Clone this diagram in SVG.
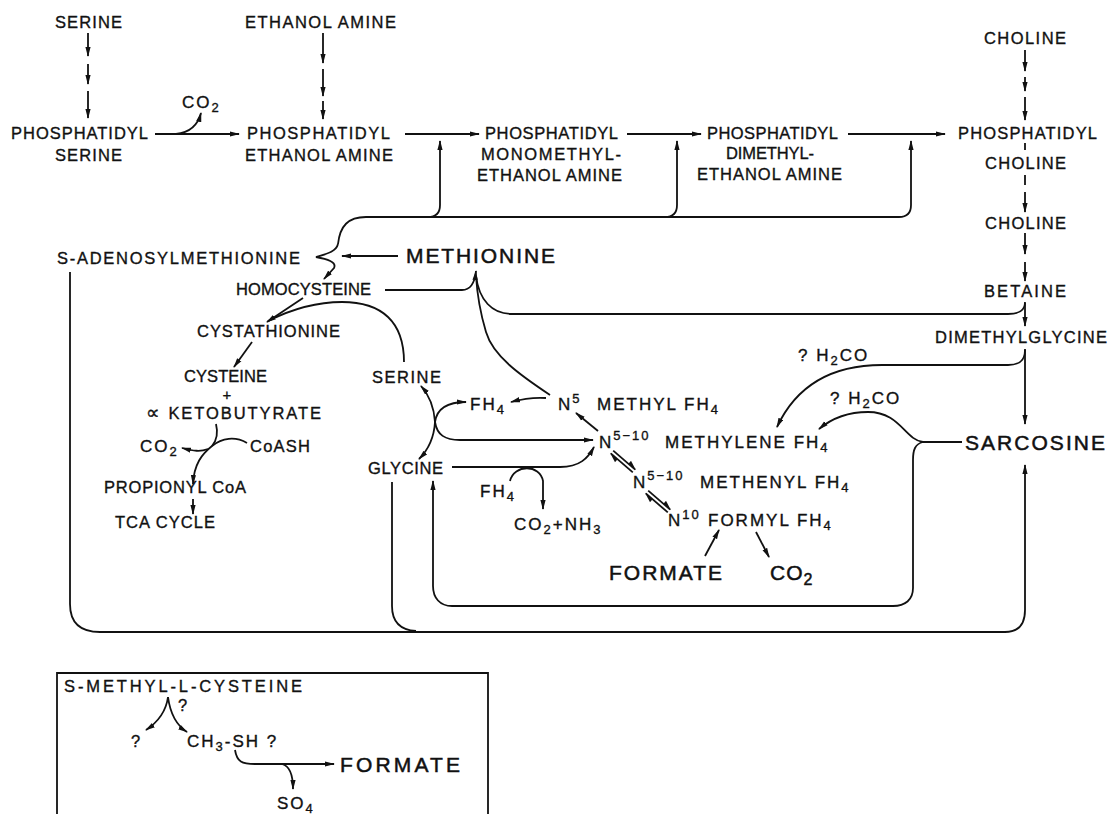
<svg xmlns="http://www.w3.org/2000/svg" width="1108" height="814" viewBox="0 0 1108 814">
<defs>
<style>
text{font-family:"Liberation Sans",Arial,sans-serif;font-size:16.5px;fill:#111;stroke:#111;stroke-width:0.35;}
.b{font-size:21px;stroke-width:0.5;}
.sm{font-size:13px;}
.sp{font-size:17px;letter-spacing:2px;}
.ln{fill:none;stroke:#111;stroke-width:1.8;}
.ar{marker-end:url(#ah);}
</style>
<marker id="ah" viewBox="0 0 10 6" refX="9" refY="3" markerWidth="10" markerHeight="6" markerUnits="userSpaceOnUse" orient="auto"><path d="M0,0.4 L10,3 L0,5.6 z" fill="#111"/></marker>
<marker id="hp" viewBox="0 0 10 6" refX="9" refY="5" markerWidth="10" markerHeight="6" markerUnits="userSpaceOnUse" orient="auto"><path d="M0,1 L10,5 L0,5 z" fill="#111"/></marker>
</defs>
<rect width="1108" height="814" fill="#fff"/>

<g id="connectors">
<path class="ln ar" d="M88,33 L88,56"/><path class="ln ar" d="M88,64 L88,84"/><path class="ln ar" d="M88,91 L88,118"/>
<path class="ln ar" d="M323,33 L323,63"/><path class="ln ar" d="M323,69 L323,96"/><path class="ln ar" d="M323,101 L323,119"/>
<path class="ln ar" d="M1025,50 L1025,71"/><path class="ln ar" d="M1025,77 L1025,91"/><path class="ln ar" d="M1025,97 L1025,120"/>
<path class="ln" d="M1025,143 L1025,150"/>
<path class="ln" d="M1025,175 L1025,185"/><path class="ln ar" d="M1025,192 L1025,212"/>
<path class="ln ar" d="M1025,233 L1025,254"/><path class="ln ar" d="M1025,262 L1025,281"/>
<path class="ln ar" d="M155,134 L239,134"/>
<path class="ln ar" d="M176,134 Q196,132 201,113"/>
<path class="ln ar" d="M405,134 L479,134"/>
<path class="ln ar" d="M627,134 L701,134"/>
<path class="ln ar" d="M848,134 L945,134"/>
<path class="ln ar" d="M338,244 C340,226 348,217 366,217 L428,217 Q440,217 440,205 L440,141"/>
<path class="ln ar" d="M428,217 L665,217 Q677,217 677,205 L677,141"/>
<path class="ln ar" d="M665,217 L899,217 Q911,217 911,205 L911,141"/>
<path class="ln ar" d="M338,244 C336,252 326,254 316,257 C327,259 337,262 334,268 L324,279"/>
<path class="ln ar" d="M398,256 L342,256"/>
<path class="ln ar" d="M385,290 L462,290 Q474,290 476,271"/>
<path class="ln" d="M1025,302 C1025,311 1019,314 1008,314 L512,314 C492,314 479,300 476,276"/>
<path class="ln" d="M550,395 C520,375 493,356 486,332 C480,312 477,292 476,276"/>
<path class="ln ar" d="M546,398 C532,397 522,399 511,402"/>
<path class="ln ar" d="M303,298 L267,322"/>
<path class="ln" d="M404,362 C404,322 382,302 342,302 C312,302 286,312 268,321"/>
<path class="ln ar" d="M252,342 L234,367"/>
<path class="ln" d="M216,424 C218,432 217,440 212,446"/>
<path class="ln ar" d="M247,443 C235,436 222,438 212,446 C202,454 194,464 193,484"/>
<path class="ln ar" d="M208,449 C200,452 194,451 182,448"/>
<path class="ln ar" d="M193,499 L193,514"/>
<path class="ln ar" d="M435,422 C434,406 429,395 421,386"/>
<path class="ln ar" d="M435,422 C434,439 428,450 419,459"/>
<path class="ln ar" d="M435,422 C437,408 448,402 466,402"/>
<path class="ln ar" d="M435,422 C437,435 445,440 460,440 L593,440"/>
<path class="ln ar" d="M452,467 L560,467 C580,467 588,458 594,447"/>
<path class="ln ar" d="M510,481 C514,464 540,464 543,481 L543,509"/>
<path class="ln ar" d="M598,431 L576,413"/>
<path class="ln" d="M613.2,450.6 L635.2,469.6" marker-end="url(#hp)"/>
<path class="ln" d="M632.8,472.4 L610.8,453.4" marker-end="url(#hp)"/>
<path class="ln" d="M648.2,490.6 L670.2,509.6" marker-end="url(#hp)"/>
<path class="ln" d="M667.8,512.4 L645.8,493.4" marker-end="url(#hp)"/>
<path class="ln ar" d="M705,556 L719,530"/>
<path class="ln ar" d="M756,532 L769,557"/>
<path class="ln ar" d="M1025,303 L1025,326"/>
<path class="ln ar" d="M1025,349 L1025,424"/>
<path class="ln ar" d="M1025,350 C1025,361 1019,365 1008,365 L882,365 C822,365 792,395 777,427"/>
<path class="ln" d="M962,442 L923,442"/>
<path class="ln ar" d="M923,442 C905,440 900,412 868,412 C846,412 831,419 819,429"/>
<path class="ln ar" d="M923,442 C915,444 913,450 913,460 L913,588 C913,600 905,606 893,606 L452,606 C440,606 433,598 433,586 L433,481"/>
<path class="ln ar" d="M70,272 L70,604 C70,622 80,632 100,632 L1005,632 C1019,632 1025,624 1025,610 L1025,465"/>
<path class="ln" d="M392,482 L392,606 C392,622 400,630 416,631"/>
<path class="ln" d="M57,814 L57,673 L488,673 L488,814"/>
<path class="ln ar" d="M168,697 C166,712 158,722 146,730"/>
<path class="ln ar" d="M168,697 C170,712 176,725 187,732"/>
<path class="ln ar" d="M235,750 C237,762 242,764 255,764 L334,764"/>
<path class="ln ar" d="M282,764 C290,766 293,775 293,789"/>
</g>

<g id="n-serine-top"><text x="55" y="28" textLength="67">SERINE</text></g>
<g id="n-ethanolamine-top"><text x="245" y="28" textLength="151">ETHANOL AMINE</text></g>
<g id="n-choline-top"><text x="984" y="44" textLength="82">CHOLINE</text></g>
<g id="n-ps"><text x="11" y="139" textLength="137">PHOSPHATIDYL</text><text x="55" y="161" textLength="67">SERINE</text></g>
<g id="n-co2-top"><text class="sp" x="182" y="108">CO<tspan class="sm" dy="4">2</tspan></text></g>
<g id="n-pe"><text x="247" y="139" textLength="143">PHOSPHATIDYL</text><text x="245" y="161" textLength="148">ETHANOL AMINE</text></g>
<g id="n-pmme"><text x="485" y="139" textLength="133">PHOSPHATIDYL</text><text x="481" y="160" textLength="140">MONOMETHYL-</text><text x="477" y="181" textLength="145">ETHANOL AMINE</text></g>
<g id="n-pdme"><text x="707" y="139" textLength="131">PHOSPHATIDYL</text><text x="726" y="159" textLength="88">DIMETHYL-</text><text x="697" y="180" textLength="145">ETHANOL AMINE</text></g>
<g id="n-pc"><text x="958" y="139" textLength="139">PHOSPHATIDYL</text><text x="985" y="169" textLength="81">CHOLINE</text></g>
<g id="n-choline"><text x="985" y="229" textLength="81">CHOLINE</text></g>
<g id="n-betaine"><text x="984" y="297" textLength="82">BETAINE</text></g>
<g id="n-dmg"><text x="935" y="343" textLength="172">DIMETHYLGLYCINE</text></g>
<g id="n-sarcosine"><text class="b" x="965" y="450" textLength="140">SARCOSINE</text></g>
<g id="n-sam"><text x="57" y="264" textLength="243">S-ADENOSYLMETHIONINE</text></g>
<g id="n-methionine"><text class="b" x="406" y="263" textLength="149">METHIONINE</text></g>
<g id="n-homocysteine"><text x="236" y="295" textLength="135">HOMOCYSTEINE</text></g>
<g id="n-cystathionine"><text x="197" y="337" textLength="143">CYSTATHIONINE</text></g>
<g id="n-cysteine"><text x="184" y="382" textLength="83">CYSTEINE</text><text x="227" y="400" text-anchor="middle" style="font-size:15px">+</text><text x="146" y="419" textLength="175"><tspan style="font-size:19px">∝</tspan> KETOBUTYRATE</text></g>
<g id="n-co2-left"><text class="sp" x="140" y="452">CO<tspan class="sm" dy="4">2</tspan></text></g>
<g id="n-coash"><text x="250" y="452" textLength="60">CoASH</text></g>
<g id="n-propionyl"><text x="104" y="493" textLength="142">PROPIONYL CoA</text></g>
<g id="n-tca"><text x="115" y="528" textLength="100">TCA CYCLE</text></g>
<g id="n-serine"><text x="372" y="383" textLength="69">SERINE</text></g>
<g id="n-glycine"><text x="368" y="474" textLength="75">GLYCINE</text></g>
<g id="n-fh4-a"><text class="sp" x="470" y="410">FH<tspan class="sm" dy="4">4</tspan></text></g>
<g id="n-methylfh4"><text class="sp" x="558" y="410">N<tspan class="sm" dy="-7">5</tspan><tspan x="597" dy="7">METHYL FH</tspan><tspan class="sm" dy="4">4</tspan></text></g>
<g id="n-methylenefh4"><text class="sp" x="599" y="448">N<tspan class="sm" dy="-8">5−10</tspan><tspan x="665" dy="8">METHYLENE FH</tspan><tspan class="sm" dy="4">4</tspan></text></g>
<g id="n-methenylfh4"><text class="sp" x="633" y="488">N<tspan class="sm" dy="-8">5−10</tspan><tspan x="700" dy="8">METHENYL FH</tspan><tspan class="sm" dy="4">4</tspan></text></g>
<g id="n-formylfh4"><text class="sp" x="668" y="526">N<tspan class="sm" dy="-7">10</tspan><tspan x="708" dy="7">FORMYL FH</tspan><tspan class="sm" dy="4">4</tspan></text></g>
<g id="n-fh4-b"><text class="sp" x="480" y="497">FH<tspan class="sm" dy="4">4</tspan></text></g>
<g id="n-co2nh3"><text class="sp" x="514" y="530">CO<tspan class="sm" dy="4">2</tspan><tspan dy="-4">+NH</tspan><tspan class="sm" dy="4">3</tspan></text></g>
<g id="n-formate"><text class="b" x="609" y="580" textLength="113">FORMATE</text></g>
<g id="n-co2-big"><text class="b" x="770" y="580" style="letter-spacing:1px">CO<tspan dy="5" style="font-size:16px">2</tspan></text></g>
<g id="n-h2co-a"><text class="sp" x="798" y="361">? H<tspan class="sm" dy="4">2</tspan><tspan dy="-4">CO</tspan></text></g>
<g id="n-h2co-b"><text class="sp" x="830" y="404">? H<tspan class="sm" dy="4">2</tspan><tspan dy="-4">CO</tspan></text></g>

<g id="n-smlc"><text x="64" y="692" textLength="238">S-METHYL-L-CYSTEINE</text></g>
<g id="n-q1"><text x="178" y="711">?</text></g>
<g id="n-q2"><text x="131" y="747">?</text></g>
<g id="n-ch3sh"><text class="sp" x="187" y="747">CH<tspan class="sm" dy="4">3</tspan><tspan dy="-4">-SH ?</tspan></text></g>
<g id="n-formate-box"><text class="b" x="340" y="772" textLength="120">FORMATE</text></g>
<g id="n-so4"><text class="sp" x="277" y="809">SO<tspan class="sm" dy="4">4</tspan></text></g>
</svg>
